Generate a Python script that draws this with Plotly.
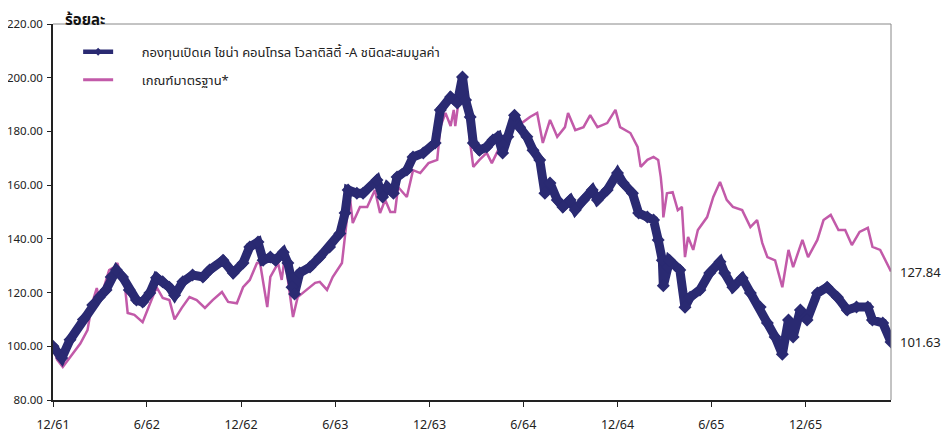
import plotly.graph_objects as go

# ---- data ----
fund_dates = [
    "2018-12-01", "2018-12-18", "2019-01-03", "2019-01-29", "2019-02-16", "2019-03-01",
    "2019-03-14", "2019-03-24", "2019-04-03", "2019-04-15", "2019-04-28", "2019-05-12",
    "2019-05-24", "2019-06-07", "2019-06-20", "2019-07-02", "2019-07-15", "2019-07-25",
    "2019-08-10", "2019-08-29", "2019-09-18", "2019-10-01", "2019-10-27", "2019-11-16",
    "2019-12-05", "2019-12-18", "2020-01-03", "2020-01-13", "2020-01-27", "2020-02-06",
    "2020-02-21", "2020-03-01", "2020-03-09", "2020-03-14", "2020-03-24", "2020-04-13",
    "2020-05-02", "2020-05-21", "2020-06-10", "2020-06-20", "2020-06-26", "2020-07-13",
    "2020-07-25", "2020-08-21", "2020-09-01", "2020-09-10", "2020-09-22", "2020-09-29",
    "2020-10-18", "2020-10-30", "2020-11-19", "2020-12-12", "2020-12-22", "2021-01-11",
    "2021-01-24", "2021-02-03", "2021-02-09", "2021-02-18", "2021-02-24", "2021-03-08",
    "2021-03-22", "2021-04-03", "2021-04-13", "2021-04-22", "2021-05-02", "2021-05-15",
    "2021-05-25", "2021-06-08", "2021-06-20", "2021-07-03", "2021-07-13", "2021-07-23",
    "2021-08-06", "2021-08-17", "2021-08-31", "2021-09-10", "2021-09-26", "2021-10-13",
    "2021-10-23", "2021-11-11", "2021-12-01", "2021-12-12", "2021-12-30", "2022-01-11",
    "2022-01-28", "2022-02-09", "2022-02-18", "2022-02-26", "2022-02-28", "2022-03-09",
    "2022-03-12", "2022-04-01", "2022-04-11", "2022-04-21", "2022-05-10", "2022-05-29",
    "2022-06-18", "2022-06-27", "2022-07-13", "2022-07-31", "2022-08-16", "2022-09-04",
    "2022-09-18", "2022-10-03", "2022-10-17", "2022-10-29", "2022-11-07", "2022-11-21",
    "2022-12-04", "2022-12-24", "2023-01-12", "2023-02-01", "2023-02-20", "2023-03-10",
    "2023-04-01", "2023-04-10", "2023-04-30", "2023-05-16",
]
fund_values = [
    100.0, 95.6, 102.4, 110.0, 115.4, 118.3,
    121.0, 125.8, 128.4, 125.8, 121.0, 117.2,
    116.5, 119.8, 125.5, 124.0, 122.0, 119.0,
    124.0, 126.5, 125.8, 128.4, 132.0, 127.3,
    131.0, 137.0, 138.8, 132.0, 133.2, 132.0,
    135.0, 131.0, 122.0, 119.5, 127.3, 129.5,
    133.2, 137.0, 142.0, 149.6, 158.2, 157.0,
    157.0, 161.9, 155.6, 159.3, 157.0, 163.0,
    165.6, 170.5, 172.0, 175.7, 188.0, 192.8,
    190.6, 200.3, 191.7, 185.4, 175.7, 173.0,
    174.2, 176.8, 178.0, 172.0, 178.0, 186.0,
    181.6, 178.0, 173.0, 169.4, 157.0, 160.8,
    154.5, 151.9, 154.5, 150.7, 154.5, 158.2,
    154.5, 158.2, 164.5, 160.8, 157.0, 149.6,
    148.1, 147.0, 139.6, 132.0, 122.5, 129.5,
    132.0, 128.4, 114.5, 118.3, 121.0, 127.3,
    131.5, 127.3, 122.0, 125.4, 119.8, 114.6,
    108.7, 103.5, 97.0, 109.8, 103.5, 113.5,
    109.8, 119.8, 122.0, 118.3, 113.5, 114.6,
    114.6, 109.8, 108.7, 101.63,
]

bench_dates = [
    "2018-12-01", "2018-12-09", "2018-12-20", "2019-01-03", "2019-01-23", "2019-02-06",
    "2019-02-15", "2019-02-24", "2019-03-01", "2019-03-10", "2019-03-20", "2019-03-30",
    "2019-04-05", "2019-04-13", "2019-04-19", "2019-04-25", "2019-05-08", "2019-05-24",
    "2019-06-02", "2019-06-20", "2019-07-02", "2019-07-15", "2019-07-25", "2019-08-08",
    "2019-08-23", "2019-09-06", "2019-09-22", "2019-10-07", "2019-10-25", "2019-11-06",
    "2019-11-23", "2019-12-05", "2019-12-18", "2020-01-01", "2020-01-07", "2020-01-21",
    "2020-01-27", "2020-02-11", "2020-02-18", "2020-02-24", "2020-03-01", "2020-03-11",
    "2020-03-20", "2020-04-07", "2020-04-23", "2020-05-02", "2020-05-16", "2020-05-27",
    "2020-06-14", "2020-06-24", "2020-06-30", "2020-07-05", "2020-07-19", "2020-08-02",
    "2020-08-17", "2020-08-27", "2020-09-06", "2020-09-16", "2020-09-25", "2020-10-01",
    "2020-10-18", "2020-10-30", "2020-11-13", "2020-11-29", "2020-12-16", "2020-12-22",
    "2021-01-01", "2021-01-11", "2021-01-17", "2021-01-20", "2021-01-26", "2021-02-03",
    "2021-02-13", "2021-02-18", "2021-02-24", "2021-03-08", "2021-03-22", "2021-04-01",
    "2021-04-16", "2021-04-26", "2021-05-05", "2021-05-15", "2021-05-29", "2021-06-14",
    "2021-06-28", "2021-07-09", "2021-07-23", "2021-08-06", "2021-08-21", "2021-08-27",
    "2021-09-10", "2021-09-26", "2021-10-09", "2021-10-23", "2021-11-11", "2021-11-27",
    "2021-12-06", "2021-12-26", "2022-01-09", "2022-01-15", "2022-01-28", "2022-02-09",
    "2022-02-18", "2022-02-23", "2022-02-26", "2022-02-28", "2022-03-07", "2022-03-18",
    "2022-03-28", "2022-04-05", "2022-04-11", "2022-04-17", "2022-04-27", "2022-05-06",
    "2022-05-24", "2022-06-05", "2022-06-18", "2022-07-01", "2022-07-13", "2022-07-31",
    "2022-08-16", "2022-08-29", "2022-09-08", "2022-09-18", "2022-10-03", "2022-10-17",
    "2022-10-29", "2022-11-07", "2022-11-25", "2022-12-06", "2022-12-24", "2023-01-05",
    "2023-01-19", "2023-02-03", "2023-02-16", "2023-03-01", "2023-03-16", "2023-04-01",
    "2023-04-10", "2023-04-25", "2023-05-08", "2023-05-16",
]
bench_values = [
    100.0, 95.0, 92.3, 96.0, 101.0, 106.0,
    116.0, 121.7, 117.2, 122.0, 128.4, 129.5,
    131.0, 125.8, 123.6, 112.4, 111.7, 109.0,
    113.5, 122.0, 118.0, 117.2, 110.0, 114.3,
    118.3, 117.2, 114.3, 117.2, 120.2, 116.5,
    116.0, 122.0, 124.7, 131.0, 131.0, 114.6,
    125.8, 131.0, 124.7, 133.2, 124.7, 110.9,
    118.3, 121.0, 123.6, 124.0, 121.0, 125.8,
    131.0, 148.0, 154.5, 145.9, 151.9, 151.9,
    158.2, 149.6, 154.5, 150.0, 150.0, 159.3,
    155.6, 165.6, 164.5, 168.2, 169.4, 181.6,
    186.9, 182.0, 188.0, 182.0, 190.6, 194.7,
    185.4, 175.7, 166.8, 169.4, 172.0, 168.2,
    174.2, 178.0, 181.6, 187.2, 183.1, 185.4,
    186.9, 175.7, 184.3, 178.0, 181.6, 186.9,
    180.5, 181.6, 186.1, 181.6, 183.1, 188.0,
    181.6, 179.4, 174.2, 166.8, 169.4, 170.5,
    169.4, 163.0, 157.0, 148.0, 157.0, 157.4,
    150.7, 151.9, 133.2, 140.7, 135.9, 143.3,
    148.1, 155.6, 161.2, 154.5, 151.9, 150.7,
    144.4, 147.0, 138.5, 133.2, 132.0, 122.0,
    135.9, 129.5, 139.6, 133.2, 139.6, 147.0,
    148.9, 143.3, 143.3, 137.7, 142.6, 144.1,
    137.0, 135.9, 131.0, 127.84,
]

tick_dates = ["2018-12-01", "2019-06-01", "2019-12-01", "2020-06-01", "2020-12-01",
              "2021-06-01", "2021-12-01", "2022-06-01", "2022-12-01"]
tick_labels = ["12/61", "6/62", "12/62", "6/63", "12/63", "6/64", "12/64", "6/65", "12/65"]

fund_name = "กองทุนเปิดเค ไชน่า คอนโทรล โวลาติลิตี้ -A ชนิดสะสมมูลค่า"
bench_name = "เกณฑ์มาตรฐาน*"
y_title = "ร้อยละ"

NAVY = "#2a2a72"
PINK = "#c25aa9"
FONT = "Noto Sans, Noto Sans Thai, Tahoma, sans-serif"
PAD = "&nbsp;" * 7  # gap between legend sample and legend text

fig = go.Figure()
fig.add_trace(go.Scatter(
    x=bench_dates, y=bench_values, name=bench_name, mode="lines",
    showlegend=False, line=dict(color=PINK, width=2.5),
))
fig.add_trace(go.Scatter(
    x=fund_dates, y=fund_values, name=fund_name, mode="lines+markers",
    showlegend=False, line=dict(color=NAVY, width=9),
    marker=dict(symbol="diamond", size=10, color=NAVY),
))
# legend-only entries (thinner sample lines, as in the reference legend)
fig.add_trace(go.Scatter(
    x=[None], y=[None], name=PAD + fund_name, mode="lines+markers",
    legendgroup="a", legendrank=1,
    line=dict(color=NAVY, width=4.5), marker=dict(symbol="diamond", size=6, color=NAVY),
))
fig.add_trace(go.Scatter(
    x=[None], y=[None], name=PAD + bench_name, mode="lines",
    legendgroup="b", legendrank=2,
    line=dict(color=PINK, width=3),
))

# end-value labels
fig.add_annotation(x=1, xref="paper", y=bench_values[-1], yref="y",
                   text=f"{bench_values[-1]:.2f}", showarrow=False,
                   xanchor="left", xshift=7, font=dict(size=13, color="#222"))
fig.add_annotation(x=1, xref="paper", y=fund_values[-1], yref="y",
                   text=f"{fund_values[-1]:.2f}", showarrow=False,
                   xanchor="left", xshift=7, font=dict(size=13, color="#222"))
# axis title
fig.add_annotation(x=0, xref="paper", y=1, yref="paper", text=f"<b>{y_title}</b>",
                   showarrow=False, xanchor="left", yanchor="bottom", xshift=10, yshift=-7,
                   font=dict(size=15, color="#111"))

# top and right frame lines (gray)
fig.add_shape(type="line", xref="paper", yref="paper", x0=0, x1=1, y0=1, y1=1,
              line=dict(color="#888", width=1))
fig.add_shape(type="line", xref="paper", yref="paper", x0=1, x1=1, y0=0, y1=1,
              line=dict(color="#888", width=1))

fig.update_layout(
    width=942, height=425,
    margin=dict(l=45, r=59, t=16, b=33, autoexpand=False),
    paper_bgcolor="white", plot_bgcolor="white",
    font=dict(family=FONT, size=12, color="#222"),
    legend=dict(x=0.030, y=0.966, xanchor="left", yanchor="top",
                bgcolor="rgba(0,0,0,0)",
                font=dict(size=13), tracegroupgap=8),
    showlegend=True,
)
fig.update_xaxes(
    type="date", range=["2018-12-01", "2023-05-16"], automargin=False,
    tickmode="array", tickvals=tick_dates, ticktext=tick_labels,
    showgrid=False, showline=True, linecolor="#222", linewidth=1.5,
    ticks="outside", ticklen=5, tickcolor="#222", zeroline=False,
    tickfont=dict(size=12.5), ticklabelstandoff=7,
)
fig.update_yaxes(
    range=[80, 220], dtick=20, tick0=80, tickformat=".2f", automargin=False,
    showgrid=False, showline=True, linecolor="#222", linewidth=1.5,
    ticks="outside", ticklen=4, tickcolor="#222", zeroline=False,
    tickfont=dict(size=11.5), ticklabelstandoff=2,
)

fig.write_html("out.html")
